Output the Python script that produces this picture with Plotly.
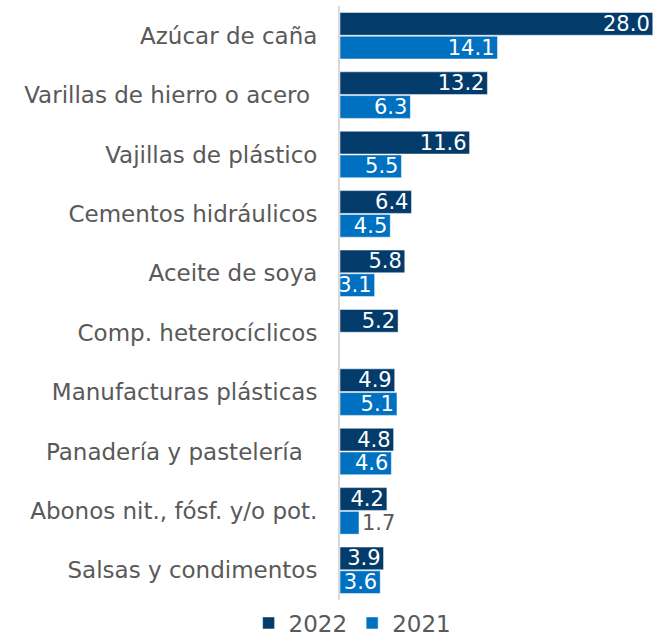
import plotly.graph_objects as go

categories = [
    "Azúcar de caña",
    "Varillas de hierro o acero ",
    "Vajillas de plástico",
    "Cementos hidráulicos",
    "Aceite de soya",
    "Comp. heterocíclicos",
    "Manufacturas plásticas",
    "Panadería y pastelería  ",
    "Abonos nit., fósf. y/o pot.",
    "Salsas y condimentos",
]
values_2022 = [28.0, 13.2, 11.6, 6.4, 5.8, 5.2, 4.9, 4.8, 4.2, 3.9]
values_2021 = [14.1, 6.3, 5.5, 4.5, 3.1, None, 5.1, 4.6, 1.7, 3.6]

FONT = "DejaVu Sans"
GRAY = "#595959"


def labels(vals):
    return ["" if v is None else f"{v:.1f}" for v in vals]


def positions(vals):
    # small bars get their label outside
    return ["outside" if (v is not None and v < 2.5) else "inside" for v in vals]


def colors(vals, inside_color):
    return [GRAY if (v is not None and v < 2.5) else inside_color for v in vals]


fig = go.Figure()
fig.add_bar(
    name="2022",
    y=categories,
    x=values_2022,
    orientation="h",
    marker_color="#033C6B",
    text=labels(values_2022),
    textposition=positions(values_2022),
    insidetextanchor="end",
    constraintext="none",
    textfont={"color": colors(values_2022, "white"), "size": 21, "family": FONT},
)
fig.add_bar(
    name="2021",
    y=categories,
    x=values_2021,
    orientation="h",
    marker_color="#0070C0",
    text=labels(values_2021),
    textposition=positions(values_2021),
    insidetextanchor="end",
    constraintext="none",
    textfont={"color": colors(values_2021, "white"), "size": 21, "family": FONT},
)

fig.update_layout(
    width=659,
    height=637,
    barmode="group",
    bargap=0.2,
    bargroupgap=0.04,
    template="plotly_white",
    plot_bgcolor="white",
    paper_bgcolor="white",
    font={"family": FONT, "size": 23, "color": GRAY},
    margin={"l": 340, "r": 4, "t": 6, "b": 37},
    legend={
        "orientation": "h",
        "x": 0.04,
        "xanchor": "center",
        "yref": "container",
        "y": 0.022,
        "yanchor": "middle",
        "font": {"size": 23, "color": GRAY},
    },
    xaxis={"visible": False, "range": [0, 28.2], "showgrid": False},
    yaxis={
        "autorange": "reversed",
        "automargin": False,
        "showgrid": False,
        "showline": True,
        "linecolor": "#d9d9d9",
        "linewidth": 2,
        "ticks": "",
        "ticklabelstandoff": 16,
    },
)

fig.write_html(
    "out.html",
    config={"displayModeBar": False},
    post_script="document.body.style.margin='0';",
)
